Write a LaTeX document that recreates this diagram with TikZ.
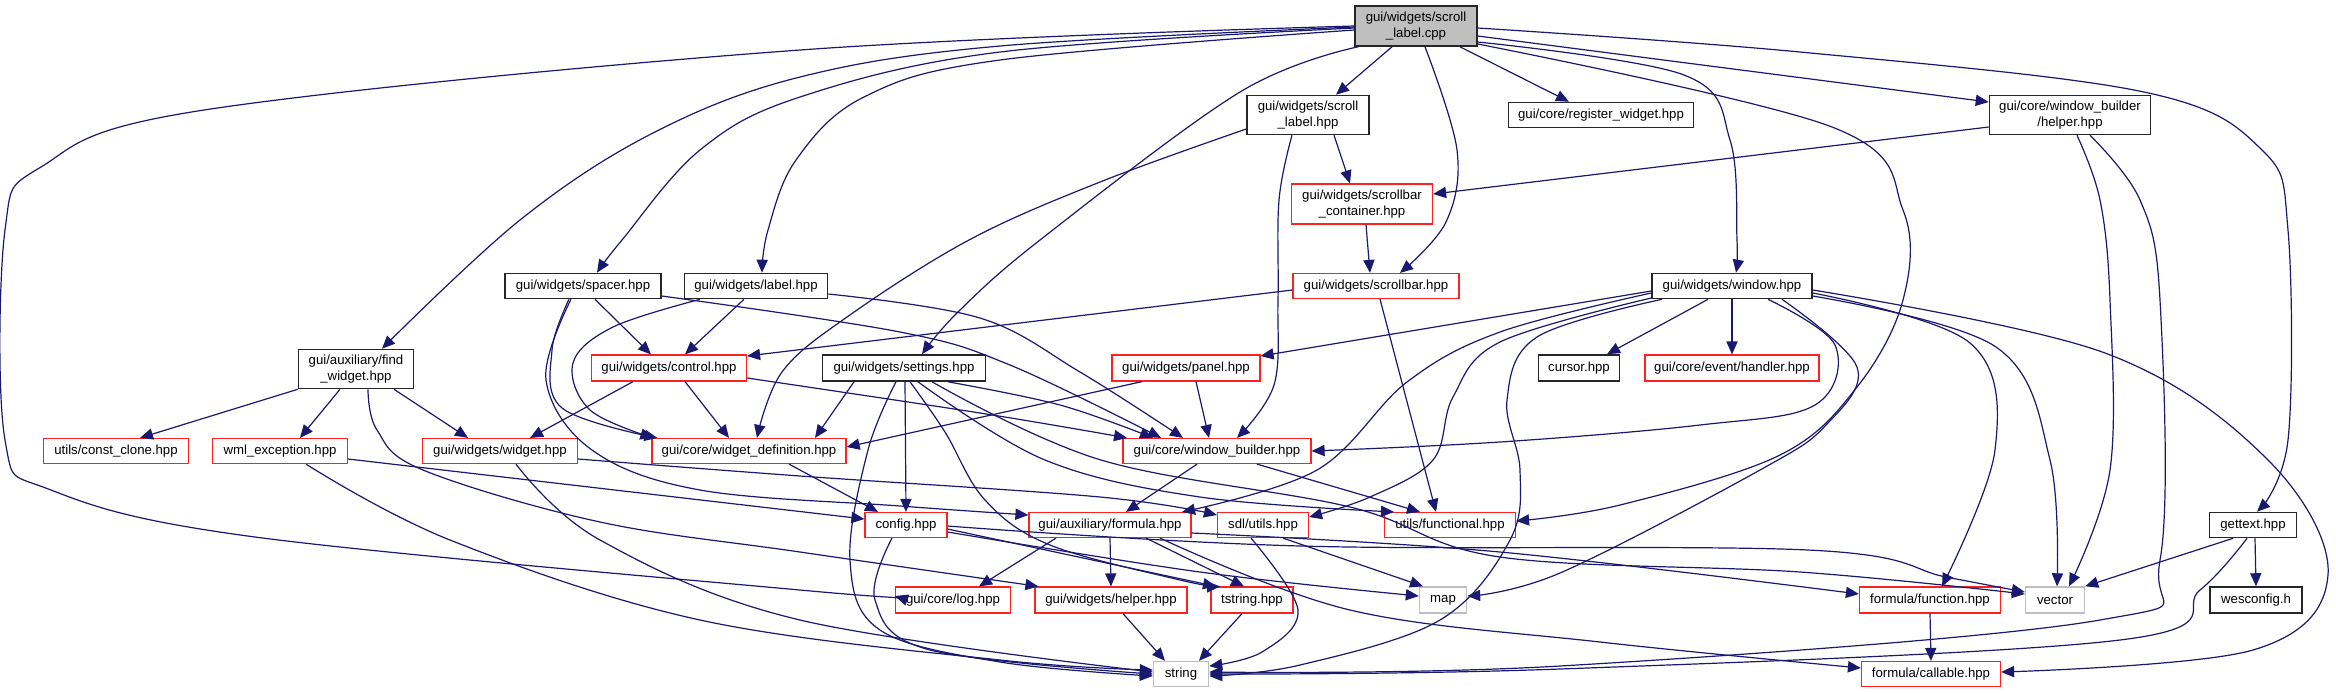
\documentclass[tikz,border=0pt]{standalone}
\usepackage{fontspec}
\setmainfont{Liberation Sans}
\usetikzlibrary{arrows.meta}
\definecolor{edgec}{HTML}{191970}
\definecolor{rootfill}{HTML}{BFBFBF}
\definecolor{gborder}{HTML}{BFBFBF}
\definecolor{rborder}{HTML}{FF2020}
\newcommand{\fsz}{\fontsize{6.6pt}{7.6pt}\selectfont}
\tikzset{
  base/.style={rectangle, inner sep=0.5pt, font=\fsz, text=black, align=center},
  blk/.style={base, draw=black!85, line width=0.8pt},
  rootbox/.style={base, draw=black!85, fill=rootfill, line width=0.8pt},
  redbox/.style={base, draw=rborder, line width=0.6pt},
  gbox/.style={base, draw=gborder, line width=0.7pt},
  e/.style={-{Triangle[length=6.5pt,width=5.6pt]}, draw=edgec, line width=0.6pt},
  sm/.style={smooth, tension=0.6}
}
\begin{document}
\begin{tikzpicture}[x=0.5pt,y=-0.5pt]
\useasboundingbox (0,0) rectangle (2336,693);
% nodes
\node[rootbox, minimum width=61pt, minimum height=20pt] (root) at (1416,26) {gui/widgets/scroll\\\_label.cpp};
\node[blk, minimum width=61pt, minimum height=19.5pt] (slhpp) at (1308,115) {gui/widgets/scroll\\\_label.hpp};
\node[blk, minimum width=92.5pt, minimum height=12.5pt] (regw) at (1601,115) {gui/core/register\_widget.hpp};
\node[blk, minimum width=80.5pt, minimum height=19.5pt] (wbhelper) at (2070,115) {gui/core/window\_builder\\/helper.hpp};
\node[redbox, minimum width=70.5pt, minimum height=20pt] (sbcont) at (1362,204) {gui/widgets/scrollbar\\\_container.hpp};
\node[blk, minimum width=78pt, minimum height=12.5pt] (spacer) at (583,286) {gui/widgets/spacer.hpp};
\node[blk, minimum width=71.5pt, minimum height=12.5pt] (label) at (756,286) {gui/widgets/label.hpp};
\node[redbox, minimum width=83pt, minimum height=12.5pt] (scrollbar) at (1376,286) {gui/widgets/scrollbar.hpp};
\node[blk, minimum width=80pt, minimum height=12.5pt] (window) at (1732,286) {gui/widgets/window.hpp};
\node[blk, minimum width=57.5pt, minimum height=19.5pt] (findw) at (356,369) {gui/auxiliary/find\\\_widget.hpp};
\node[redbox, minimum width=77.5pt, minimum height=13pt] (control) at (669,368) {gui/widgets/control.hpp};
\node[blk, minimum width=81.5pt, minimum height=13pt] (settings) at (904,368) {gui/widgets/settings.hpp};
\node[redbox, minimum width=74pt, minimum height=13pt] (panel) at (1186,368) {gui/widgets/panel.hpp};
\node[blk, minimum width=40.5pt, minimum height=13pt] (cursor) at (1579,368) {cursor.hpp};
\node[redbox, minimum width=87pt, minimum height=13pt] (handler) at (1732,368) {gui/core/event/handler.hpp};
\node[redbox, minimum width=72.5pt, minimum height=12.5pt] (constclone) at (116,451) {utils/const\_clone.hpp};
\node[redbox, minimum width=67.5pt, minimum height=12.5pt] (wmlexc) at (280,451) {wml\_exception.hpp};
\node[redbox, minimum width=77.5pt, minimum height=12.5pt] (widget) at (500,451) {gui/widgets/widget.hpp};
\node[redbox, minimum width=97pt, minimum height=12.5pt] (wdef) at (749,451) {gui/core/widget\_definition.hpp};
\node[redbox, minimum width=94pt, minimum height=12.5pt] (wbuilder) at (1217,451) {gui/core/window\_builder.hpp};
\node[redbox, minimum width=41pt, minimum height=12.5pt] (config) at (906,525) {config.hpp};
\node[redbox, minimum width=81pt, minimum height=12.5pt] (formula) at (1110,525) {gui/auxiliary/formula.hpp};
\node[redbox, minimum width=45.5pt, minimum height=12.5pt] (sdlutils) at (1263,525) {sdl/utils.hpp};
\node[redbox, minimum width=65.5pt, minimum height=12.5pt] (functional) at (1450,525) {utils/functional.hpp};
\node[blk, minimum width=43.5pt, minimum height=12.5pt] (gettext) at (2253,525) {gettext.hpp};
\node[redbox, minimum width=57.5pt, minimum height=13pt] (log) at (953,600) {gui/core/log.hpp};
\node[redbox, minimum width=76pt, minimum height=13pt] (whelper) at (1111,600) {gui/widgets/helper.hpp};
\node[redbox, minimum width=41pt, minimum height=13pt] (tstring) at (1252,600) {tstring.hpp};
\node[gbox, minimum width=23.5pt, minimum height=13pt] (map) at (1443,600) {map};
\node[redbox, minimum width=70.5pt, minimum height=13pt] (function) at (1930,600) {formula/function.hpp};
\node[gbox, minimum width=29.5pt, minimum height=13pt] (vector) at (2055,600) {vector};
\node[blk, minimum width=46pt, minimum height=13pt] (wesconfig) at (2256,600) {wesconfig.h};
\node[gbox, minimum width=27.5pt, minimum height=12.5pt] (string) at (1181,674) {string};
\node[redbox, minimum width=69.5pt, minimum height=12.5pt] (callable) at (1931,674) {formula/callable.hpp};

% root edges
\draw[e] ([xshift=-12pt]root.south) -- ([xshift=14pt]slhpp.north);
\draw[e] ([xshift=22pt]root.south) -- ([xshift=-16pt]regw.north);
\draw[e] ([yshift=-5pt]root.east) -- ([yshift=6.5pt]wbhelper.west);
\draw[e] plot[sm] coordinates {([yshift=-1pt]root.east) (1800,52) (2144,92) (2262,150) (2288,230) (2288,440) ([xshift=2pt]gettext.north)};
\draw[e] plot[sm] coordinates {([yshift=-8pt]root.east) (1684,75) (1730,140) (1737,240) ([xshift=2pt]window.north)};
\draw[e] plot[sm] coordinates {([yshift=-9pt]root.east) (1832,127) (1903,210) (1903,300) (1857,387) (1780,455) (1620,505) ([yshift=2pt]functional.east)};
\draw[e] plot[sm] coordinates {([xshift=4.5pt]root.south) (1457,150) (1446,222) ([xshift=12pt]scrollbar.north)};
\draw[e] plot[sm] coordinates {([xshift=2pt]root.south west) (1240,92) (1040,240) (958,312) ([xshift=9pt]settings.north)};
\draw[e] plot[sm] coordinates {([yshift=-2pt]root.west) (1000,60) (864,97) (796,160) (768,230) ([xshift=3pt]label.north)};
\draw[e] plot[sm] coordinates {([yshift=-1pt]root.west) (1000,52) (800,97) (700,150) (622,240) ([xshift=7pt]spacer.north)};
\draw[e] plot[sm] coordinates {([yshift=-0.5pt]root.west) (1000,46) (800,77) (653,133) (520,220) ([xshift=13pt]findw.north)};
\draw[e] plot[sm] coordinates {(root.west) (800,50) (204,110) (41,167) (5,230) (5,440) (51,490) (255,537) (800,590) ([yshift=2pt]log.west)};

% scroll_label.hpp
\draw[e] ([xshift=13pt]slhpp.south) -- ([xshift=-6pt]sbcont.north);
\draw[e] plot[sm] coordinates {([yshift=-7pt]slhpp.west) (1100,182) (969,240) (847,317) (782,372) ([xshift=4pt]wdef.north)};
\draw[e] plot[sm] coordinates {([xshift=-8pt]slhpp.south) (1279,200) (1278,300) (1274,385) ([xshift=10pt]wbuilder.north)};
% window_builder/helper
\draw[e] ([yshift=-6pt]wbhelper.west) -- ([yshift=5pt]sbcont.east);
\draw[e] plot[sm] coordinates {([xshift=3.5pt]wbhelper.south) (2100,200) (2110,300) (2110,470) ([xshift=7pt]vector.north)};
\draw[e] plot[sm] coordinates {([xshift=10pt]wbhelper.south) (2140,200) (2160,300) (2160,560) (2100,620) (1560,666) ([yshift=1pt]string.east)};
% scrollbar_container
\draw[e] ([xshift=2pt]sbcont.south) -- ([xshift=-3pt]scrollbar.north);
% spacer
\draw[e] ([xshift=6pt]spacer.south) -- ([xshift=-9pt]control.north);
\draw[e] plot[sm] coordinates {([xshift=-7pt]spacer.south) (552,350) (562,408) ([xshift=3pt]wdef.north west)};
\draw[e] plot[sm] coordinates {([xshift=-6pt]spacer.south) (546,380) (592,450) (700,490) (900,506) ([yshift=5pt]formula.west)};
\draw[e] plot[sm] coordinates {([yshift=-5pt]spacer.east) (900,332) (1010,365) ([xshift=-28pt]wbuilder.north)};
% label
\draw[e] ([xshift=-6pt]label.south) -- ([xshift=8pt]control.north);
\draw[e] plot[sm] coordinates {([xshift=-28pt]label.south) (613,327) (573,363) (590,410) ([xshift=1pt]wdef.north west)};
\draw[e] plot[sm] coordinates {([yshift=-4pt]label.east) (980,318) (1080,372) ([xshift=-17pt]wbuilder.north)};
% scrollbar
\draw[e] ([yshift=-2pt]scrollbar.west) -- ([yshift=6pt]control.east);
\draw[e] ([xshift=2pt]scrollbar.south) -- ([xshift=-7pt]functional.north);
% window
\draw[e] ([xshift=-12pt]window.south) -- ([xshift=14pt]cursor.north);
\draw[e] (window.south) -- (handler.north);
\draw[e] ([yshift=-2.5pt]window.west) -- ([yshift=6pt]panel.east);
\draw[e] plot[sm] coordinates {([xshift=18pt]window.south) (1835,345) (1815,405) (1700,425) (1500,442) (wbuilder.east)};
\draw[e] plot[sm] coordinates {([yshift=-3.5pt]window.west) (1500,332) (1407,382) (1317,470) ([xshift=36pt]formula.north)};
\draw[e] plot[sm] coordinates {([yshift=-6pt]window.west) (1500,342) (1453,397) (1433,460) (1370,497) ([yshift=4pt]sdlutils.east)};
\draw[e] plot[sm] coordinates {([xshift=-35pt]window.south) (1537,337) (1507,400) (1520,470) (1510,540) (1440,620) (1300,665) ([yshift=-1pt]string.east)};
\draw[e] plot[sm] coordinates {([xshift=25pt]window.south) (1857,367) (1826,425) (1760,470) (1560,573) ([yshift=2pt]map.east)};
\draw[e] plot[sm] coordinates {([yshift=-3.5pt]window.east) (1970,343) (1995,450) ([xshift=6pt]function.north)};
\draw[e] plot[sm] coordinates {([yshift=-5pt]window.east) (1996,347) (2050,460) ([xshift=1pt]vector.north)};
\draw[e] plot[sm] coordinates {([yshift=-2pt]window.east) (2105,353) (2268,460) (2328,575) (2253,650) ([yshift=1pt]callable.east)};
% gettext
\draw[e] ([xshift=-10pt]gettext.south) -- (vector.north east);
\draw[e] ([xshift=1pt]gettext.south) -- (wesconfig.north);
\draw[e] plot[sm] coordinates {([xshift=-3pt]gettext.south) (2200,590) (2120,640) (1560,669) (string.east)};
% find_widget
\draw[e] (findw.south west) -- ([xshift=12pt]constclone.north);
\draw[e] ([xshift=-8pt]findw.south) -- ([xshift=10pt]wmlexc.north);
\draw[e] ([xshift=19pt]findw.south) -- ([xshift=-16pt]widget.north);
\draw[e] plot[sm] coordinates {([xshift=6pt]findw.south) (377,430) (423,470) (600,522) (800,552) ([xshift=2pt]whelper.north west)};
% control
\draw[e] ([xshift=-18pt]control.south) -- ([xshift=15pt]widget.north);
\draw[e] ([xshift=8pt]control.south) -- ([xshift=-10pt]wdef.north);
\draw[e] plot[sm] coordinates {([yshift=-5pt]control.east) (980,413) ([xshift=-45pt]wbuilder.north)};
% settings
\draw[e] ([xshift=-25pt]settings.south) -- ([xshift=33pt]wdef.north);
\draw[e] plot[sm] coordinates {([xshift=22pt]settings.south) (1060,405) ([xshift=-32pt]wbuilder.north)};
\draw[e] ([xshift=0.5pt]settings.south) -- (config.north);
\draw[e] plot[sm] coordinates {([xshift=-4pt]settings.south) (868,450) (850,560) (880,630) (1000,662) ([yshift=-1pt]string.west)};
\draw[e] plot[sm] coordinates {([xshift=3pt]settings.south) (945,432) (985,500) (1050,545) (1180,580) ([xshift=-16pt]tstring.north)};
\draw[e] plot[sm] coordinates {([xshift=7pt]settings.south) (1045,460) (1200,497) ([xshift=-28pt]functional.north)};
\draw[e] plot[sm] coordinates {([xshift=14pt]settings.south) (1101,460) (1350,507) (1500,557) (1800,572) ([yshift=3pt]vector.west)};
% panel
\draw[e] ([xshift=-22pt]panel.south) -- ([yshift=2pt]wdef.east);
\draw[e] ([xshift=5pt]panel.south) -- ([xshift=-4pt]wbuilder.north);
% widget_definition
\draw[e] ([xshift=20pt]wdef.south) -- ([xshift=-14pt]config.north);
% widget
\draw[e] plot[sm] coordinates {([xshift=8pt]widget.south) (600,540) (800,620) ([yshift=1pt]string.west)};
\draw[e] plot[sm] coordinates {([yshift=-4pt]widget.east) (800,476) (1100,497) ([yshift=5pt]sdlutils.west)};
% wml_exception
\draw[e] ([yshift=-4pt]wmlexc.east) -- ([yshift=3pt]config.west);
\draw[e] plot[sm] coordinates {([xshift=13pt]wmlexc.south) (450,540) (700,620) (1000,660) ([yshift=2pt]string.west)};
% window_builder
\draw[e] ([xshift=-10pt]wbuilder.south) -- ([xshift=8pt]formula.north);
\draw[e] ([xshift=20pt]wbuilder.south) -- ([xshift=-15pt]functional.north);
% config
\draw[e] plot[sm] coordinates {([xshift=-7pt]config.south) (875,600) (930,650) (string.west)};
\draw[e] ([yshift=-2pt]config.east) -- ([xshift=-18pt]tstring.north);
\draw[e] plot[sm] coordinates {([yshift=-3.5pt]config.east) (1200,572) ([yshift=2pt]map.west)};
\draw[e] plot[sm] coordinates {([yshift=-0.5pt]config.east) (1300,546) (1808,550) (1946,577) ([yshift=4pt]vector.west)};
% formula
\draw[e] ([xshift=-27pt]formula.south) -- ([xshift=13pt]log.north);
\draw[e] (formula.south) -- (whelper.north);
\draw[e] ([xshift=18pt]formula.south) -- ([xshift=-4pt]tstring.north);
\draw[e] plot[sm] coordinates {([xshift=25pt]formula.south) (1350,610) (1600,642) ([yshift=3pt]callable.west)};
\draw[e] plot[sm] coordinates {([yshift=-4pt]formula.east) (1500,552) ([yshift=3pt]function.west)};
% sdl/utils
\draw[e] plot[sm] coordinates {([xshift=-6pt]sdlutils.south) (1298,610) (1262,652) ([yshift=4pt]string.east)};
\draw[e] ([xshift=10pt]sdlutils.south) -- ([xshift=-10pt]map.north);
% bottom
\draw[e] ([xshift=6pt]whelper.south) -- ([xshift=-8pt]string.north);
\draw[e] ([xshift=-5pt]tstring.south) -- ([xshift=9pt]string.north);
\draw[e] (function.south) -- (callable.north);
\end{tikzpicture}
\end{document}
